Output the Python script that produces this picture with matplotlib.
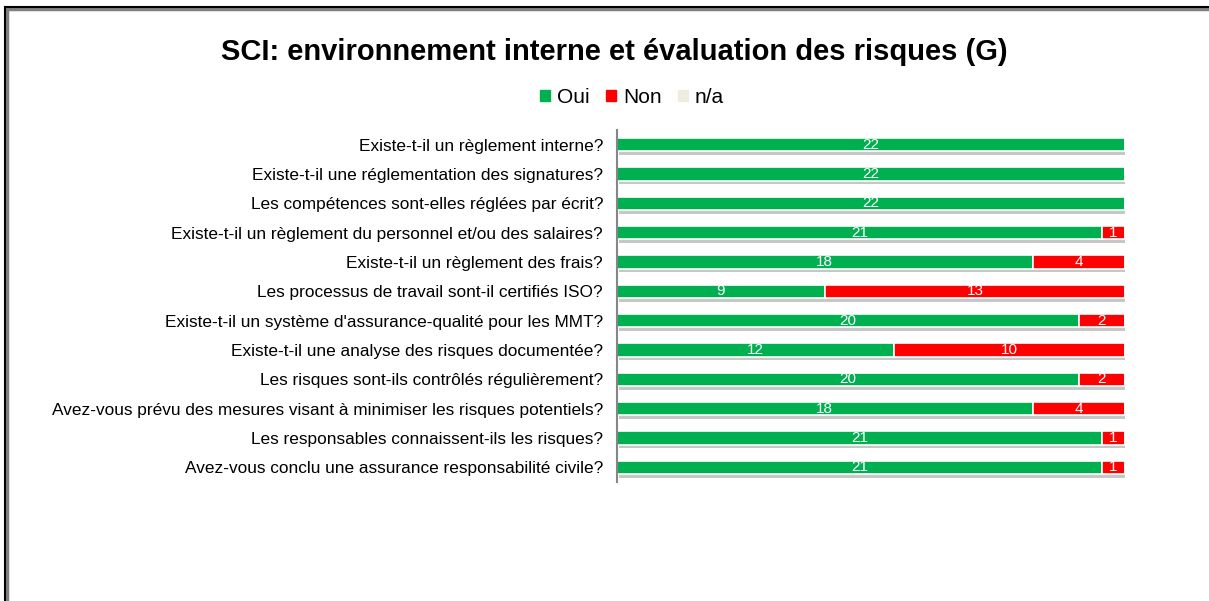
import matplotlib.pyplot as plt
import matplotlib.patheffects as pe
from matplotlib.patches import Rectangle

plt.rcParams['font.family'] = ['Liberation Sans', 'DejaVu Sans']

questions = [
    "Existe-t-il un règlement interne?",
    "Existe-t-il une réglementation des signatures?",
    "Les compétences sont-elles réglées par écrit?",
    "Existe-t-il un règlement du personnel et/ou des salaires?",
    "Existe-t-il un règlement des frais?",
    "Les processus de travail sont-il certifiés ISO?",
    "Existe-t-il un système d'assurance-qualité pour les MMT?",
    "Existe-t-il une analyse des risques documentée?",
    "Les risques sont-ils contrôlés régulièrement?",
    "Avez-vous prévu des mesures visant à minimiser les risques potentiels?",
    "Les responsables connaissent-ils les risques?",
    "Avez-vous conclu une assurance responsabilité civile?",
]
oui = [22, 22, 22, 21, 18, 9, 20, 12, 20, 18, 21, 21]
non = [0, 0, 0, 1, 4, 13, 2, 10, 2, 4, 1, 1]
na = [0, 0, 0, 0, 0, 0, 0, 0, 0, 0, 0, 0]

series = [("Oui", oui, "#00B050"), ("Non", non, "#FF0000"), ("n/a", na, "#EEECE1")]

fig = plt.figure(figsize=(12.09, 6.01), dpi=100)

# outer frame (top and left edges with a grey shadow)
fig.add_artist(plt.Line2D([0.0058, 0.0058], [0, 0.987], color="#808080", lw=2.5, transform=fig.transFigure))
fig.add_artist(plt.Line2D([0.0058, 1.0], [0.985, 0.985], color="#808080", lw=2.5, transform=fig.transFigure))
fig.add_artist(plt.Line2D([0.0045, 0.0045], [0, 0.988], color="black", lw=1.5, transform=fig.transFigure))
fig.add_artist(plt.Line2D([0.0045, 1.0], [0.988, 0.988], color="black", lw=1.5, transform=fig.transFigure))

ax = fig.add_axes([0.5103, 0.198, 0.4202, 0.5857])

y = list(range(len(questions)))
left = [0] * len(questions)
shadow = [pe.SimplePatchShadow(offset=(1.5, -2.5), shadow_rgbFace="#000000", alpha=0.22), pe.Normal()]
for name, vals, col in series:
    bars = ax.barh(y, vals, left=left, height=0.46, color=col, edgecolor="white",
                   linewidth=1.2, label=name)
    for b, v in zip(bars, vals):
        b.set_path_effects(shadow)
        if v > 0:
            ax.text(b.get_x() + b.get_width() / 2, b.get_y() + b.get_height() / 2, str(v),
                    ha="center", va="center", color="white", fontsize=11)
    left = [l + v for l, v in zip(left, vals)]

ax.set_xlim(0, 22)
ax.set_ylim(len(questions) - 0.5, -0.5)
ax.set_yticks(y)
ax.set_yticklabels(questions, fontsize=12.4)
ax.tick_params(axis="y", length=0, pad=10)
ax.set_xticks([])
for s in ["top", "right", "bottom"]:
    ax.spines[s].set_visible(False)
ax.spines["left"].set_color("#868686")
ax.spines["left"].set_linewidth(1.5)

fig.text(0.508, 0.914, "SCI: environnement interne et évaluation des risques (G)",
         ha="center", va="center", fontsize=21, fontweight="bold")

handles = [Rectangle((0, 0), 1, 1, color=c) for _, _, c in series]
fig.legend(handles, [n for n, _, _ in series], loc="center", bbox_to_anchor=(0.523, 0.838),
           ncol=3, frameon=False, fontsize=15, handlelength=0.45, handleheight=0.45,
           handletextpad=0.35, columnspacing=0.8)

fig.savefig("out.png", dpi=100)
